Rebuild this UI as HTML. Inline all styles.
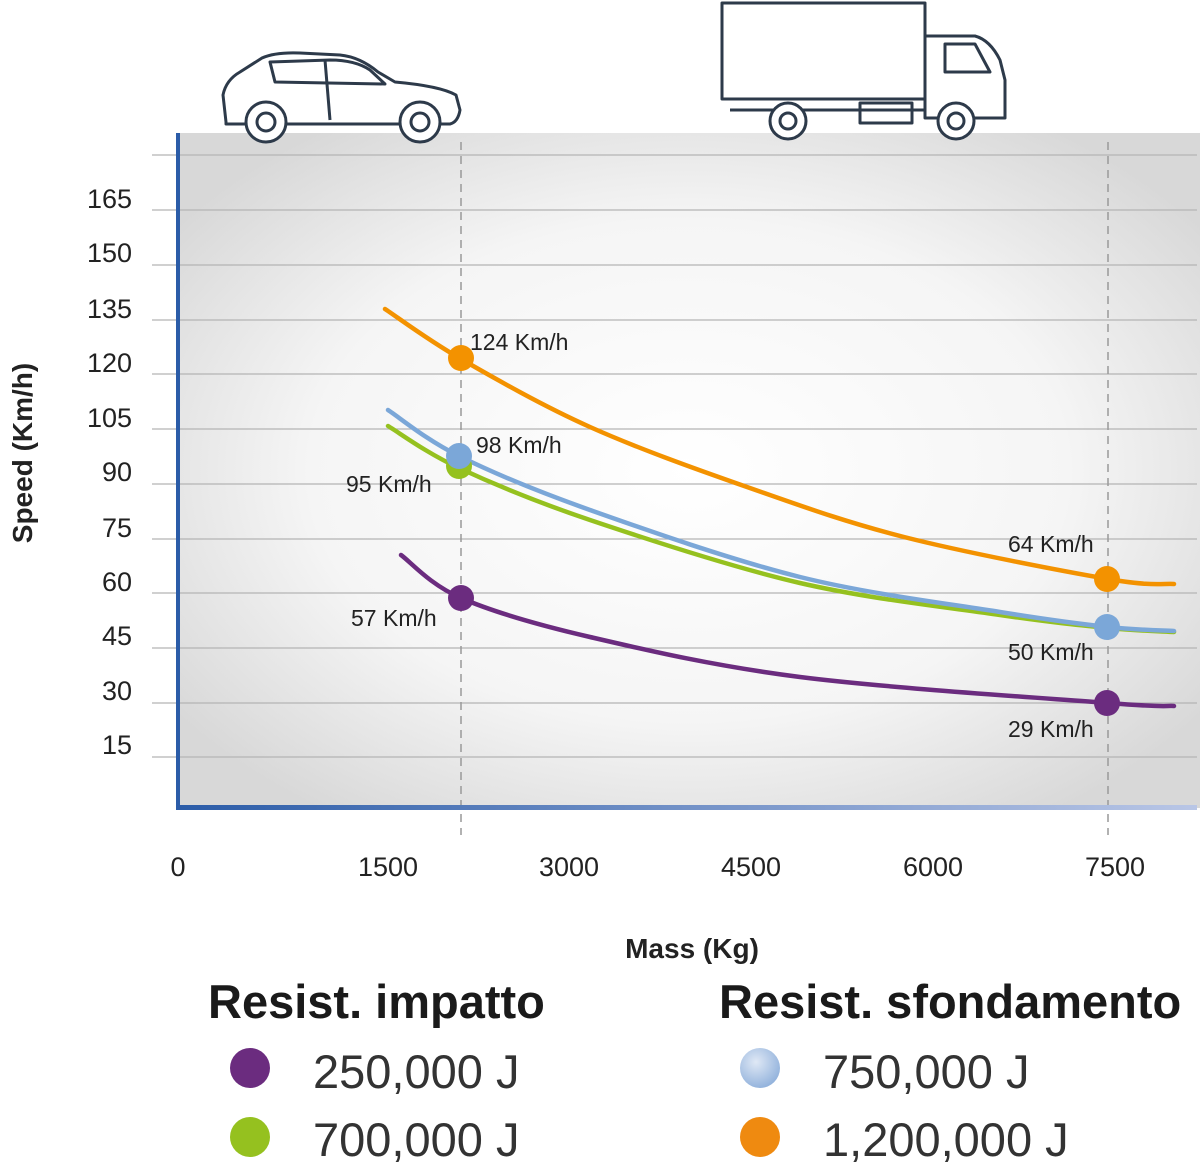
<!DOCTYPE html>
<html><head><meta charset="utf-8"><style>
html,body{margin:0;padding:0;background:#fff;}
body{width:1200px;height:1164px;position:relative;overflow:hidden;font-family:"Liberation Sans",sans-serif;}
</style></head><body>
<svg width="1200" height="1164" viewBox="0 0 1200 1164" xmlns="http://www.w3.org/2000/svg" style="position:absolute;left:0;top:0">
<defs>
<radialGradient id="bg" cx="0.5" cy="0.5" r="0.62">
<stop offset="0" stop-color="#ffffff"/>
<stop offset="0.6" stop-color="#f5f5f5"/>
<stop offset="1" stop-color="#d8d8d8"/>
</radialGradient>
<linearGradient id="ax" x1="0" x2="1" y1="0" y2="0">
<stop offset="0" stop-color="#2b5ca8"/><stop offset="1" stop-color="#b9c6e6"/>
</linearGradient>
<radialGradient id="lb" cx="0.4" cy="0.35" r="0.7">
<stop offset="0" stop-color="#dfe8f5"/><stop offset="1" stop-color="#8fb0db"/>
</radialGradient>
</defs>
<rect x="178" y="133" width="1022" height="675" fill="url(#bg)"/>
<g stroke="#b4b4b4" stroke-width="1.3">
<line x1="152" x2="1197" y1="155" y2="155"/><line x1="152" x2="1197" y1="210" y2="210"/>
<line x1="152" x2="1197" y1="265" y2="265"/><line x1="152" x2="1197" y1="320" y2="320"/>
<line x1="152" x2="1197" y1="374" y2="374"/><line x1="152" x2="1197" y1="429" y2="429"/>
<line x1="152" x2="1197" y1="484" y2="484"/><line x1="152" x2="1197" y1="539" y2="539"/>
<line x1="152" x2="1197" y1="593" y2="593"/><line x1="152" x2="1197" y1="648" y2="648"/>
<line x1="152" x2="1197" y1="703" y2="703"/><line x1="152" x2="1197" y1="757" y2="757"/>
</g>
<g stroke="#999" stroke-width="1.5" stroke-dasharray="8,6">
<line x1="461" x2="461" y1="142" y2="835"/><line x1="1108" x2="1108" y1="142" y2="835"/>
</g>
<line x1="178" x2="178" y1="133" y2="810" stroke="#2b5ca8" stroke-width="4"/>
<rect x="176" y="805" width="1021" height="5" fill="url(#ax)"/>
<g font-size="27" fill="#222" text-anchor="end">
<text x="132" y="208">165</text><text x="132" y="262">150</text><text x="132" y="318">135</text>
<text x="132" y="372">120</text><text x="132" y="427">105</text><text x="132" y="481">90</text>
<text x="132" y="537">75</text><text x="132" y="591">60</text><text x="132" y="645">45</text>
<text x="132" y="700">30</text><text x="132" y="754">15</text>
</g>
<g font-size="27" fill="#222" text-anchor="middle">
<text x="178" y="876">0</text><text x="388" y="876">1500</text><text x="569" y="876">3000</text>
<text x="751" y="876">4500</text><text x="933" y="876">6000</text><text x="1115" y="876">7500</text>
</g>
<text x="692" y="958" font-size="28" font-weight="bold" text-anchor="middle" fill="#222">Mass (Kg)</text>
<text transform="translate(32,453) rotate(-90)" font-size="28" font-weight="bold" text-anchor="middle" fill="#222">Speed (Km/h)</text>
<g id="curves" fill="none" stroke-width="4.5" stroke-linecap="round"></g>
<circle cx="461" cy="358" r="13" fill="#f39200"/><circle cx="1107" cy="579" r="13" fill="#f39200"/>
<circle cx="459" cy="466" r="13" fill="#95c11f"/>
<circle cx="459" cy="456" r="13" fill="#7ba7d8"/><circle cx="1107" cy="627" r="13" fill="#7ba7d8"/>
<circle cx="461" cy="598" r="13" fill="#6b2c7f"/><circle cx="1107" cy="703" r="13" fill="#6b2c7f"/>
<g font-size="23" fill="#222">
<text x="470" y="350">124 Km/h</text><text x="476" y="453">98 Km/h</text>
<text x="346" y="492">95 Km/h</text><text x="351" y="626">57 Km/h</text>
<text x="1008" y="552">64 Km/h</text><text x="1008" y="660">50 Km/h</text><text x="1008" y="737">29 Km/h</text>
</g>
<g stroke="#2d3a4a" stroke-width="3" fill="none" stroke-linejoin="round">
<path d="M226 122 L223 95 Q226 80 240 72 L262 58 Q275 52 300 53 L340 55 Q360 57 378 72 L395 82 Q440 86 456 95 L460 110 Q458 122 450 124 L226 124 Z"/>
<path d="M270 62 L275 82 L385 84 L370 70 Q355 60 330 60 Z"/>
<line x1="325" y1="60" x2="330" y2="120"/>
<circle cx="266" cy="122" r="20" fill="#fff"/><circle cx="266" cy="122" r="9"/>
<circle cx="420" cy="122" r="20" fill="#fff"/><circle cx="420" cy="122" r="9"/>
<rect x="722" y="3" width="203" height="96"/>
<path d="M925 36 L975 36 Q990 40 1000 60 L1005 80 L1005 118 L925 118 Z"/>
<path d="M945 44 L975 44 L990 72 L945 72 Z"/>
<line x1="730" y1="110" x2="925" y2="110"/>
<rect x="860" y="103" width="52" height="20"/>
<circle cx="788" cy="121" r="18" fill="#fff"/><circle cx="788" cy="121" r="8"/>
<circle cx="956" cy="121" r="18" fill="#fff"/><circle cx="956" cy="121" r="8"/>
</g>
<g font-weight="bold" font-size="47" fill="#1a1a1a">
<text x="208" y="1018">Resist. impatto</text><text x="719" y="1018">Resist. sfondamento</text>
</g>
<circle cx="250" cy="1068" r="20" fill="#6b2c7f"/><circle cx="250" cy="1137" r="20" fill="#95c11f"/>
<circle cx="760" cy="1068" r="20" fill="url(#lb)"/><circle cx="760" cy="1137" r="20" fill="#ef8a10"/>
<g font-size="47" fill="#333">
<text x="313" y="1088">250,000 J</text><text x="313" y="1156">700,000 J</text>
<text x="823" y="1088">750,000 J</text><text x="823" y="1156">1,200,000 J</text>
</g>
</svg>
<script>
(function(){
var g=document.getElementById('curves');
function cr(P){var d='M'+P[0][0]+' '+P[0][1];for(var i=0;i<P.length-1;i++){var p0=P[i-1]||P[i],p1=P[i],p2=P[i+1],p3=P[i+2]||P[i+1];
var c1=[p1[0]+(p2[0]-p0[0])/6,p1[1]+(p2[1]-p0[1])/6],c2=[p2[0]-(p3[0]-p1[0])/6,p2[1]-(p3[1]-p1[1])/6];
d+=' C'+c1[0]+' '+c1[1]+' '+c2[0]+' '+c2[1]+' '+p2[0]+' '+p2[1];}return d;}
function mk(P,col){var p=document.createElementNS('http://www.w3.org/2000/svg','path');p.setAttribute('d',cr(P));p.setAttribute('stroke',col);g.appendChild(p);}
mk([[385,309],[461,359],[590,427],[747,487],[904,537],[1108,579],[1174,584]],'#f39200');
mk([[388,426],[459,468],[590,520],[800,583],[1000,615],[1108,628],[1174,632]],'#95c11f');
mk([[388,410],[459,456],[590,510],[800,577],[1000,612],[1108,627],[1174,631]],'#7ba7d8');
mk([[401,555],[461,598],[590,637],[800,677],[1108,703],[1174,706]],'#6b2c7f');
})();
</script>
</body></html>
